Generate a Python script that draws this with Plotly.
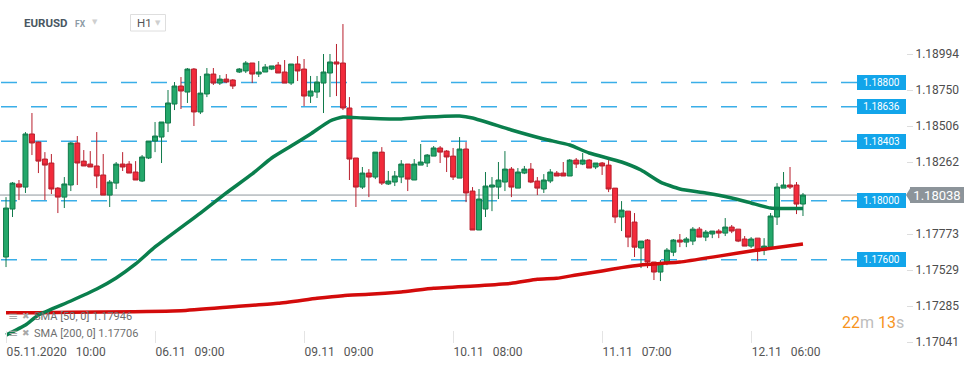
import plotly.graph_objects as go

# ---------------- data ----------------
open_ = [1.17618, 1.17943, 1.18113, 1.18092, 1.18452, 1.18397, 1.18282, 1.18255, 1.18085, 1.18024,
         1.18106, 1.18391, 1.18268, 1.18248, 1.18235, 1.18174, 1.18038, 1.18119, 1.18248, 1.18248,
         1.18194, 1.18133, 1.18289, 1.18404, 1.18431, 1.18526, 1.18655, 1.18777, 1.18736, 1.18892,
         1.18601, 1.18723, 1.18858, 1.18797, 1.18824, 1.18818, 1.18872, 1.18879, 1.18933, 1.18858,
         1.18872, 1.18892, 1.18919, 1.18872, 1.18797, 1.18926, 1.18892, 1.18709, 1.18736, 1.18797,
         1.18865, 1.18940, 1.18933, 1.18628, 1.18289, 1.18092, 1.18187, 1.18160, 1.18329, 1.18113,
         1.18126, 1.18160, 1.18248, 1.18140, 1.18241, 1.18255, 1.18302, 1.18357, 1.18336, 1.18302,
         1.18153, 1.18350, 1.18065, 1.17801, 1.17943, 1.18092, 1.18092, 1.18126, 1.18214, 1.18085,
         1.18187, 1.18214, 1.18133, 1.18079, 1.18133, 1.18187, 1.18187, 1.18167, 1.18275, 1.18248,
         1.18275, 1.18228, 1.18255, 1.18241, 1.18085, 1.17889, 1.17929, 1.17855, 1.17679, 1.17733,
         1.17584, 1.17516, 1.17584, 1.17651, 1.17733, 1.17719, 1.17726, 1.17807, 1.17753, 1.17774,
         1.17794, 1.17780, 1.17821, 1.17807, 1.17740, 1.17692, 1.17746, 1.17665, 1.17685, 1.17889,
         1.18085, 1.18106, 1.18106, 1.17977]
high = [1.18024, 1.18126, 1.18140, 1.18465, 1.18594, 1.18400, 1.18329, 1.18316, 1.18092, 1.18160,
        1.18397, 1.18438, 1.18343, 1.18336, 1.18465, 1.18316, 1.18140, 1.18262, 1.18329, 1.18268,
        1.18268, 1.18309, 1.18404, 1.18533, 1.18533, 1.18750, 1.18804, 1.18838, 1.18899, 1.18899,
        1.18845, 1.18899, 1.18899, 1.18851, 1.18858, 1.18824, 1.18899, 1.18946, 1.18933, 1.18946,
        1.18926, 1.18913, 1.18940, 1.18953, 1.18926, 1.18980, 1.18960, 1.18845, 1.18845, 1.18994,
        1.18994, 1.19062, 1.19197, 1.18702, 1.18289, 1.18228, 1.18214, 1.18329, 1.18363, 1.18201,
        1.18201, 1.18275, 1.18248, 1.18282, 1.18384, 1.18316, 1.18370, 1.18370, 1.18343, 1.18357,
        1.18431, 1.18397, 1.18092, 1.18079, 1.18194, 1.18160, 1.18262, 1.18336, 1.18228, 1.18221,
        1.18235, 1.18255, 1.18160, 1.18180, 1.18214, 1.18201, 1.18262, 1.18282, 1.18289, 1.18323,
        1.18282, 1.18255, 1.18262, 1.18275, 1.18085, 1.17997, 1.17929, 1.17916, 1.17726, 1.17740,
        1.17584, 1.17597, 1.17679, 1.17740, 1.17774, 1.17753, 1.17821, 1.17821, 1.17801, 1.17794,
        1.17807, 1.17882, 1.17835, 1.17807, 1.17760, 1.17753, 1.17746, 1.17746, 1.17916, 1.18119,
        1.18194, 1.18228, 1.18126, 1.18052]
low = [1.17550, 1.17889, 1.18004, 1.18052, 1.18309, 1.18187, 1.18004, 1.18045, 1.17916, 1.17950,
       1.18065, 1.18106, 1.18235, 1.18228, 1.18085, 1.18038, 1.17957, 1.18079, 1.18201, 1.18187,
       1.18140, 1.18126, 1.18282, 1.18329, 1.18255, 1.18465, 1.18614, 1.18621, 1.18662, 1.18506,
       1.18587, 1.18702, 1.18784, 1.18784, 1.18797, 1.18757, 1.18865, 1.18865, 1.18797, 1.18838,
       1.18872, 1.18885, 1.18865, 1.18797, 1.18784, 1.18811, 1.18641, 1.18662, 1.18696, 1.18594,
       1.18702, 1.18709, 1.18614, 1.18140, 1.17957, 1.18079, 1.18024, 1.18146, 1.18106, 1.18106,
       1.18099, 1.18119, 1.18065, 1.18140, 1.18241, 1.18228, 1.18302, 1.18255, 1.18194, 1.18140,
       1.18153, 1.17990, 1.17801, 1.17801, 1.17889, 1.17929, 1.18011, 1.18065, 1.18024, 1.18085,
       1.18180, 1.18119, 1.18038, 1.18052, 1.18119, 1.18167, 1.18167, 1.18167, 1.18221, 1.18241,
       1.18221, 1.18214, 1.18174, 1.18058, 1.17848, 1.17794, 1.17685, 1.17618, 1.17543, 1.17543,
       1.17462, 1.17455, 1.17563, 1.17624, 1.17685, 1.17685, 1.17699, 1.17753, 1.17726, 1.17746,
       1.17746, 1.17760, 1.17780, 1.17719, 1.17692, 1.17679, 1.17590, 1.17631, 1.17685, 1.17835,
       1.18085, 1.18079, 1.17909, 1.17896]
close = [1.17950, 1.18119, 1.18092, 1.18452, 1.18391, 1.18268, 1.18241, 1.18079, 1.18024, 1.18113,
         1.18391, 1.18255, 1.18235, 1.18228, 1.18167, 1.18038, 1.18126, 1.18248, 1.18228, 1.18187,
         1.18140, 1.18296, 1.18404, 1.18438, 1.18533, 1.18662, 1.18777, 1.18743, 1.18892, 1.18601,
         1.18729, 1.18858, 1.18797, 1.18824, 1.18804, 1.18777, 1.18892, 1.18933, 1.18858, 1.18872,
         1.18906, 1.18913, 1.18865, 1.18797, 1.18926, 1.18879, 1.18709, 1.18743, 1.18804, 1.18872,
         1.18940, 1.18926, 1.18628, 1.18282, 1.18092, 1.18187, 1.18160, 1.18329, 1.18119, 1.18133,
         1.18167, 1.18248, 1.18146, 1.18248, 1.18262, 1.18309, 1.18357, 1.18329, 1.18296, 1.18160,
         1.18350, 1.18052, 1.17801, 1.18011, 1.18099, 1.18106, 1.18140, 1.18214, 1.18092, 1.18194,
         1.18214, 1.18126, 1.18085, 1.18140, 1.18194, 1.18167, 1.18167, 1.18275, 1.18248, 1.18275,
         1.18221, 1.18255, 1.18235, 1.18079, 1.17889, 1.17936, 1.17753, 1.17685, 1.17726, 1.17584,
         1.17516, 1.17577, 1.17665, 1.17733, 1.17719, 1.17740, 1.17807, 1.17753, 1.17787, 1.17794,
         1.17780, 1.17821, 1.17794, 1.17726, 1.17692, 1.17740, 1.17658, 1.17692, 1.17896, 1.18092,
         1.18106, 1.18092, 1.17977, 1.18038]

# moving averages, sampled along the drawn lines (candle index, value)
sma50_idx = [0, 3, 5, 10, 14, 17, 20, 23, 30, 34, 38, 41, 44, 47, 50, 52, 55, 61, 65, 70,
             72, 78, 83, 87, 90, 95, 98, 101, 104, 108, 112, 115, 118, 123]
sma50_val = [1.17089, 1.17157, 1.17225, 1.17320, 1.17401, 1.17476, 1.17571, 1.17686, 1.17916, 1.18052,
             1.18181, 1.18289, 1.18370, 1.18452, 1.18540, 1.18567, 1.18560, 1.18553, 1.18567, 1.18574,
             1.18560, 1.18479, 1.18418, 1.18377, 1.18323, 1.18262, 1.18208, 1.18126, 1.18079, 1.18052,
             1.18018, 1.17984, 1.17950, 1.17946]
sma200_idx = [0, 5, 15, 27, 35, 42, 48, 52, 56, 61, 66, 73, 78, 82, 85, 88, 92, 95, 98, 104,
              110, 116, 123]
sma200_val = [1.17241, 1.17241, 1.17245, 1.17254, 1.17281, 1.17304, 1.17338, 1.17356, 1.17365, 1.17381,
              1.17406, 1.17424, 1.17440, 1.17467, 1.17474, 1.17496, 1.17523, 1.17546, 1.17564, 1.17584,
              1.17624, 1.17665, 1.17706]

tick_idx = [0, 23, 46, 69, 92, 115]
tick_text = ["05.11.2020\u00a0\u00a0 10:00", "06.11\u00a0\u00a0 09:00", "09.11\u00a0\u00a0 09:00",
             "10.11\u00a0\u00a0 08:00", "11.11\u00a0\u00a0 07:00", "12.11\u00a0\u00a0 06:00"]
y_ticks = [1.18994, 1.18750, 1.18506, 1.18262, 1.17773, 1.17529, 1.17285, 1.17041]
levels = [1.18800, 1.18636, 1.18403, 1.18000, 1.17600]
last_price = 1.18038
symbol, market, interval = "EURUSD", "FX", "H1"
timer_min, timer_sec = "22", "13"

# ---------------- layout helpers ----------------
W, H = 974, 367
ML, MR, MT, MB = 0, 68, 0, 24
PW, PH = W - ML - MR, H - MT - MB
FONT = "Roboto, 'Open Sans', Arial, sans-serif"


def px(x):
    return (x - ML) / PW


def py(y):
    return (PH - (y - MT)) / PH


n = len(open_)
idx = list(range(n))

fig = go.Figure()

fig.add_trace(go.Candlestick(
    x=idx, open=open_, high=high, low=low, close=close,
    increasing=dict(fillcolor="#24a86b", line=dict(color="#117a4b", width=1)),
    decreasing=dict(fillcolor="#f22b3b", line=dict(color="#b81f2d", width=1)),
    whiskerwidth=0, showlegend=False, hoverinfo="skip"))

fig.add_trace(go.Scatter(x=sma200_idx, y=sma200_val, mode="lines",
                         line=dict(color="#d30b0b", width=3.5, shape="spline", smoothing=0.4),
                         showlegend=False, hoverinfo="skip"))
fig.add_trace(go.Scatter(x=sma50_idx, y=sma50_val, mode="lines",
                         line=dict(color="#0a7f4d", width=3.5, shape="spline", smoothing=0.5),
                         showlegend=False, hoverinfo="skip"))

shapes = []
annotations = []

# horizontal price levels with labels
for lv in levels:
    shapes.append(dict(type="line", xref="paper", yref="y", x0=px(1), x1=px(857), y0=lv, y1=lv,
                       line=dict(color="#3aaee8", width=1.5, dash="16px,14px"), layer="below"))
    annotations.append(dict(xref="paper", yref="y", x=1, y=lv, xanchor="right", yanchor="middle",
                            text=f"{lv:.5f}", showarrow=False, bgcolor="#12a5ea",
                            bordercolor="#12a5ea", borderwidth=1, borderpad=0, width=47, height=13,
                            font=dict(family=FONT, size=10, color="white")))

# last price line + marker
shapes.append(dict(type="line", xref="paper", yref="y", x0=0, x1=1, y0=last_price, y1=last_price,
                   line=dict(color="#8e979d", width=1), layer="below"))
shapes.append(dict(type="path", xref="paper", yref="y", xsizemode="pixel", ysizemode="pixel",
                   xanchor=1, yanchor=last_price, path="M 0,0 L 5,8 L 5,-8 Z",
                   fillcolor="#8c949a", line=dict(width=0)))
annotations.append(dict(xref="paper", yref="y", x=1, y=last_price, xanchor="left", yanchor="middle",
                        xshift=4, text=f"{last_price:.5f}", showarrow=False, bgcolor="#8c949a",
                        bordercolor="#8c949a", borderwidth=1, borderpad=0, width=52, height=14,
                        font=dict(family=FONT, size=13, color="white")))

# header
annotations += [
    dict(xref="paper", yref="paper", x=px(22), y=py(23), xanchor="left", yanchor="middle",
         text=f"<b>{symbol}</b>", showarrow=False, font=dict(family=FONT, size=11.5, color="#4a5763")),
    dict(xref="paper", yref="paper", x=px(73), y=py(24), xanchor="left", yanchor="middle",
         text=f"<b>{market}</b>", showarrow=False, font=dict(family=FONT, size=8.5, color="#8d9ba6")),
    dict(xref="paper", yref="paper", x=px(90), y=py(22), xanchor="left", yanchor="middle",
         text="▼", showarrow=False, font=dict(family="DejaVu Sans", size=7, color="#cfcfcf")),
    dict(xref="paper", yref="paper", x=px(135), y=py(23), xanchor="left", yanchor="middle",
         text=interval, showarrow=False, font=dict(family=FONT, size=11.5, color="#555555")),
    dict(xref="paper", yref="paper", x=px(153), y=py(23), xanchor="left", yanchor="middle",
         text="▼", showarrow=False, font=dict(family="DejaVu Sans", size=7, color="#cfcfcf")),
]
shapes.append(dict(type="rect", xref="paper", yref="paper", x0=px(130.5), x1=px(165.5),
                   y0=py(31), y1=py(14.5), line=dict(color="#dedede", width=1),
                   fillcolor="rgba(0,0,0,0)"))

# indicator legend
for name, vals, yy in [("SMA [50, 0]", sma50_val, 316), ("SMA [200, 0]", sma200_val, 333)]:
    annotations.append(dict(xref="paper", yref="paper", x=px(6), y=py(yy), xanchor="left",
                            yanchor="middle", text="≡", showarrow=False,
                            font=dict(family="DejaVu Sans", size=12, color="#a8a8a8")))
    annotations.append(dict(xref="paper", yref="paper", x=px(20), y=py(yy), xanchor="left",
                            yanchor="middle", text="✖", showarrow=False,
                            font=dict(family="DejaVu Sans", size=9, color="#a8a8a8")))
    annotations.append(dict(xref="paper", yref="paper", x=px(32), y=py(yy), xanchor="left",
                            yanchor="middle", text=f"{name} {vals[-1]:.5f}", showarrow=False,
                            font=dict(family=FONT, size=11, color="#6f6f6f")))

# countdown timer
annotations.append(dict(xref="paper", yref="paper", x=px(906), y=py(322), xanchor="right",
                        yanchor="middle", showarrow=False,
                        text=(f"<span style='color:#f7941d'>{timer_min}</span>"
                              f"<span style='color:#bdbdbd'>m</span> "
                              f"<span style='color:#f7941d'>{timer_sec}</span>"
                              f"<span style='color:#bdbdbd'>s</span>"),
                        font=dict(family=FONT, size=16, color="#f7941d")))

fig.update_layout(
    width=W, height=H,
    margin=dict(l=ML, r=MR, t=MT, b=MB),
    paper_bgcolor="white", plot_bgcolor="white",
    font=dict(family=FONT, size=12, color="#4d4d4d"),
    boxgap=0.1, boxgroupgap=0.15,
    shapes=shapes, annotations=annotations,
    xaxis=dict(range=[-0.93, 138.9], tickvals=tick_idx, ticktext=tick_text,
               ticks="inside", ticklen=12, tickcolor="#e4e4e4", tickwidth=1,
               ticklabelposition="outside right", tickfont=dict(size=12, color="#555555"),
               showgrid=False, zeroline=False, showline=False,
               rangeslider=dict(visible=False), fixedrange=True),
    yaxis=dict(side="right", range=[1.170352, 1.19360], tickvals=y_ticks,
               ticktext=[f"{v:.5f}" for v in y_ticks], ticks="outside", ticklen=6,
               tickcolor="#dddddd", tickfont=dict(size=12, color="#4d4d4d"),
               showgrid=False, zeroline=False, showline=False, fixedrange=True),
)

fig.write_html("out.html", config={"displayModeBar": False},
               post_script="document.body.style.margin='0';document.body.style.overflow='hidden';")
